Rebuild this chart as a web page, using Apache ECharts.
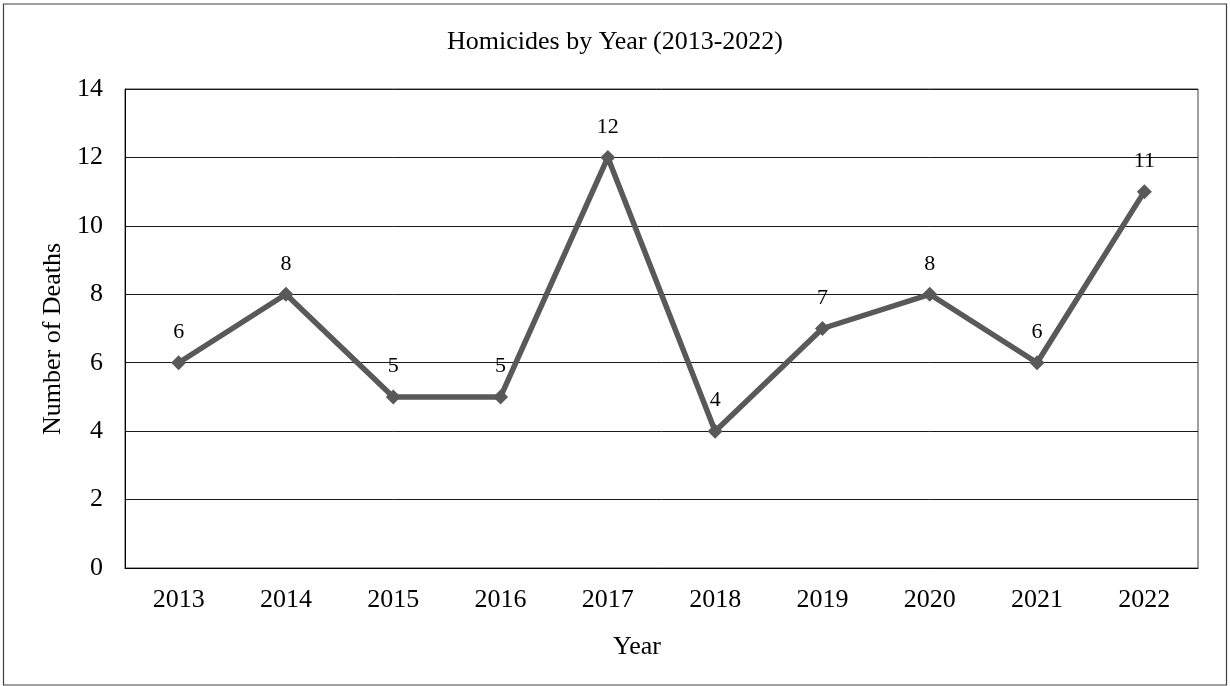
<!DOCTYPE html>
<html>
<head>
<meta charset="utf-8">
<script src="https://cdn.jsdelivr.net/npm/echarts@6/dist/echarts.min.js"></script>
<style>
html,body{margin:0;padding:0;background:#fff;}
#chart{width:1230px;height:686px;}
</style>
</head>
<body>
<div id="chart"></div>
<script>
const titleText = 'Homicides by Year (2013-2022)';
const xAxisName = 'Year';
const yAxisName = 'Number of Deaths';
const years = ['2013','2014','2015','2016','2017','2018','2019','2020','2021','2022'];
const deaths = [6, 8, 5, 5, 12, 4, 7, 8, 6, 11];
const yMin = 0, yMax = 14, yStep = 2;

const FONT = "'Liberation Serif', 'Times New Roman', serif";
const chart = echarts.init(document.getElementById('chart'), null, {renderer: 'canvas'});
chart.setOption({
  animation: false,
  backgroundColor: '#ffffff',
  title: {
    text: titleText,
    left: 'center',
    top: 24,
    textStyle: {fontFamily: FONT, fontSize: 26, fontWeight: 'normal', color: '#000'}
  },
  grid: {
    left: 125, top: 89, right: 32, bottom: 118,
    show: true, borderColor: '#404040', borderWidth: 1, backgroundColor: 'transparent'
  },
  xAxis: {
    type: 'category',
    data: years,
    boundaryGap: true,
    axisLine: {show: true, lineStyle: {color: '#000', width: 1}},
    axisTick: {show: false},
    axisLabel: {fontFamily: FONT, fontSize: 26, color: '#000', margin: 19},
    splitLine: {show: false}
  },
  yAxis: {
    type: 'value',
    min: yMin, max: yMax, interval: yStep,
    axisLine: {show: true, lineStyle: {color: '#000', width: 1}},
    axisTick: {show: false},
    axisLabel: {fontFamily: FONT, fontSize: 26, color: '#000', margin: 22},
    splitLine: {show: true, lineStyle: {color: '#1a1a1a', width: 1}}
  },
  graphic: [
    {type: 'rect', shape: {x: 3.5, y: 4, width: 1223, height: 681}, style: {fill: 'none', stroke: '#404040', lineWidth: 1.2}, z: 100, silent: true},
    {type: 'text', x: 637, y: 647, style: {text: xAxisName, font: '26px ' + FONT, fill: '#000', textAlign: 'center', textVerticalAlign: 'middle'}},
    {type: 'text', x: 53, y: 339, rotation: Math.PI / 2, style: {text: yAxisName, font: '26px ' + FONT, fill: '#000', textAlign: 'center', textVerticalAlign: 'middle'}}
  ],
  series: [{
    type: 'line',
    data: deaths,
    symbol: 'diamond',
    symbolSize: 15,
    lineStyle: {color: '#595959', width: 5.5},
    itemStyle: {color: '#595959'},
    label: {show: true, position: 'top', distance: 12, fontFamily: FONT, fontSize: 22, color: '#000'}
  }]
});
</script>
</body>
</html>
